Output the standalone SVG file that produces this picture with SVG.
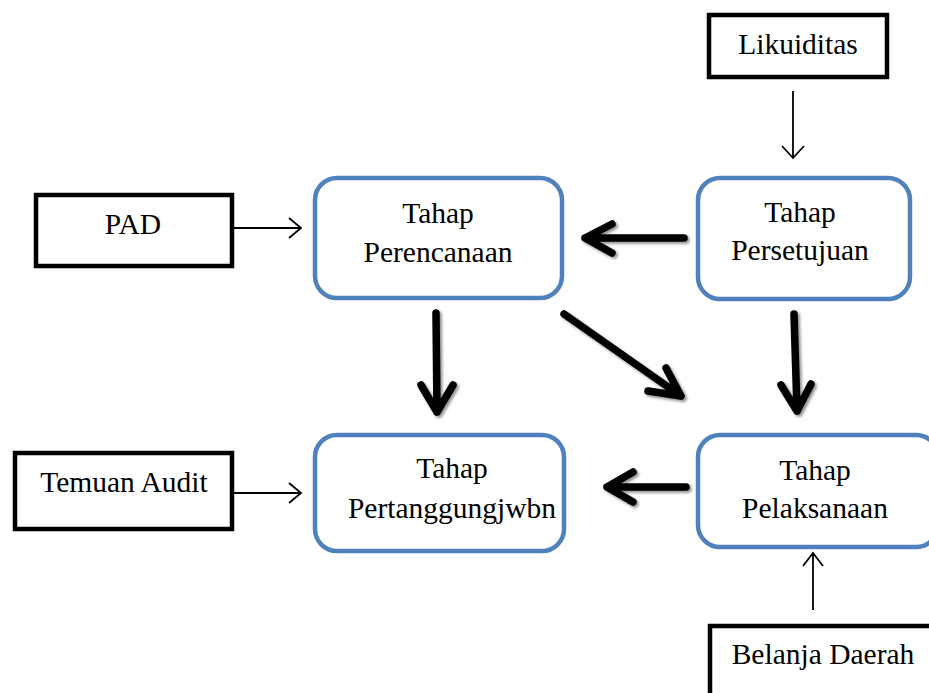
<svg xmlns="http://www.w3.org/2000/svg" width="929" height="693" viewBox="0 0 929 693">
<defs>
<filter id="sh" x="-20%" y="-20%" width="140%" height="140%">
<feGaussianBlur in="SourceAlpha" stdDeviation="1.5"/>
<feOffset dx="1.5" dy="2" result="b"/>
<feComponentTransfer><feFuncA type="linear" slope="0.45"/></feComponentTransfer>
<feMerge><feMergeNode/><feMergeNode in="SourceGraphic"/></feMerge>
</filter>
</defs>
<style>
.box{fill:#fff;stroke:#000;stroke-width:4.5}
.stage{fill:#fff;stroke:#4F81BD;stroke-width:4.5}
text{font-family:"Liberation Serif","Times New Roman",serif;font-size:29.5px;fill:#000;text-anchor:middle}
.thin{fill:none;stroke:#000;stroke-width:1.8}
.thick{fill:none;stroke:#000;stroke-width:7.5;stroke-linecap:round;stroke-linejoin:round}
</style>
<rect width="929" height="693" fill="#fff"/>
<g id="likuiditas"><rect class="box" x="709" y="15" width="178" height="62"/><text x="798" y="54">Likuiditas</text></g>
<g id="pad"><rect class="box" x="36" y="195" width="196" height="71"/><text x="133" y="234">PAD</text></g>
<g id="temuan"><rect class="box" x="15" y="453" width="217" height="76"/><text x="124" y="492">Temuan Audit</text></g>
<g id="belanja"><rect class="box" x="710" y="626" width="240" height="80"/><text x="823" y="664">Belanja Daerah</text></g>
<g id="perencanaan"><rect class="stage" x="315" y="178" width="247" height="120" rx="22"/><text x="438" y="223">Tahap</text><text x="438" y="262">Perencanaan</text></g>
<g id="persetujuan"><rect class="stage" x="698" y="178" width="212" height="121" rx="22"/><text x="800" y="222">Tahap</text><text x="800" y="260">Persetujuan</text></g>
<g id="pertanggungjwbn"><rect class="stage" x="315" y="435" width="249" height="116" rx="22"/><text x="452" y="478">Tahap</text><text x="452" y="518">Pertanggungjwbn</text></g>
<g id="pelaksanaan"><rect class="stage" x="698" y="435" width="240" height="112" rx="22"/><text x="815" y="480">Tahap</text><text x="815" y="518">Pelaksanaan</text></g>
<g id="connectors">
<path class="thin" d="M793,91 V158 M782,146 L793,158 L804,146"/>
<path class="thin" d="M233,228 H301 M289,218 L301,228 L289,238"/>
<path class="thin" d="M233,493 H301 M289,483 L301,493 L289,503"/>
<path class="thin" d="M813,610 V553 M803,566 L813,553 L823,566"/>
<g filter="url(#sh)">
<path class="thick" d="M684,238 H585 M612,224 L585,238 L612,253"/>
<path class="thick" d="M436,313 L437,412 M421,385 L437,412 L453,385"/>
<path class="thick" d="M564,314 L681,396 M648,391 L681,396 L666,368"/>
<path class="thick" d="M794,314 L797,411 M781,385 L797,411 L811,384"/>
<path class="thick" d="M686,487 H607 M633,472 L607,487 L633,502"/>
</g>
</g>
</svg>
